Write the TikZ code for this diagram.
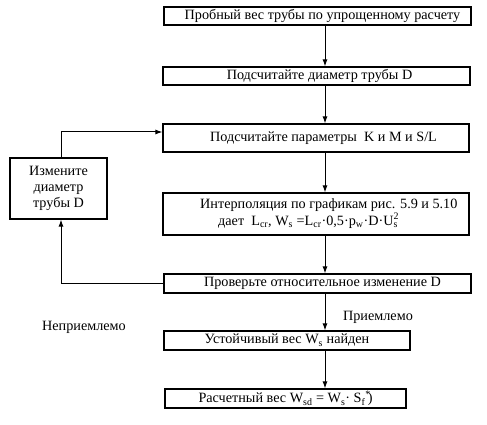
\documentclass[tikz,border=0pt]{standalone}
\usepackage{fontspec}
\setmainfont{Liberation Serif}
\usetikzlibrary{arrows.meta}
\begin{document}
\begin{tikzpicture}[x=1pt,y=-1pt,
  txt/.style={font=\fontsize{14.2}{16}\selectfont,inner sep=0pt},
  box/.style={draw,line width=1.2pt,rectangle,inner sep=0pt,txt},
  arr/.style={line width=1pt,-{Latex[length=7pt,width=5pt]}}]
\useasboundingbox (0,0) rectangle (487,425);
\node[box,minimum width=307,minimum height=18] (b1) at (317.5,16) {\hspace*{10pt}Пробный вес трубы по упрощенному расчету};
\node[box,minimum width=307,minimum height=18] (b2) at (316.5,76) {\hspace*{6pt}Подсчитайте диаметр трубы D};
\node[box,minimum width=306,minimum height=28] (b3) at (316,138) {\hspace*{15pt}Подсчитайте параметры\ \ K и M и S/L};
\node[box,minimum width=306,minimum height=42] (b4) at (316,214) {};
\node[txt,anchor=base west] (b4a) at (200,208) {Интерполяция по графикам рис. 5.9 и 5.10};
\node[txt,anchor=base west] (b4b) at (218,225) {дает\ \ L\textsubscript{cr}, W\textsubscript{s} =L\textsubscript{cr}·0,5·p\textsubscript{w}·D·U\rlap{\textsuperscript{2}}\textsubscript{s}};
\node[box,minimum width=307,minimum height=19] (b5) at (317.5,283.5) {\hspace*{10pt}Проверьте относительное изменение D};
\node[box,minimum width=246,minimum height=19] (b6) at (287,340.5) {Устойчивый вес W\textsubscript{s} найден};
\node[box,minimum width=241,minimum height=19] (b7) at (285.5,398.5) {Расчетный вес W\textsubscript{sd} = W\textsubscript{s}· S\textsubscript{f}\rlap{\textsuperscript{*}}\,)};
\node[box,minimum width=97,minimum height=61,align=center] (lb) at (58.5,188.5) {Измените\\диаметр\\трубы D};
\node[txt] (nl) at (84,327) {Неприемлемо};
\node[txt] (pl) at (378,317) {Приемлемо};
\coordinate (ax) at (325,0);
\coordinate (lx) at (61,0);
\coordinate (fy) at (0,132);
\draw[arr] (b1.south -| ax) -- (b2.north -| ax);
\draw[arr] (b2.south -| ax) -- (b3.north -| ax);
\draw[arr] (b3.south -| ax) -- (b4.north -| ax);
\draw[arr] (b4.south -| ax) -- (b5.north -| ax);
\draw[arr] (b5.south -| ax) -- (b6.north -| ax);
\draw[arr] (b6.south -| ax) -- (b7.north -| ax);
\draw[arr] (b5.west) -| (lb.south -| lx);
\draw[arr] (lb.north -| lx) |- (b3.west |- fy);
\end{tikzpicture}
\end{document}
